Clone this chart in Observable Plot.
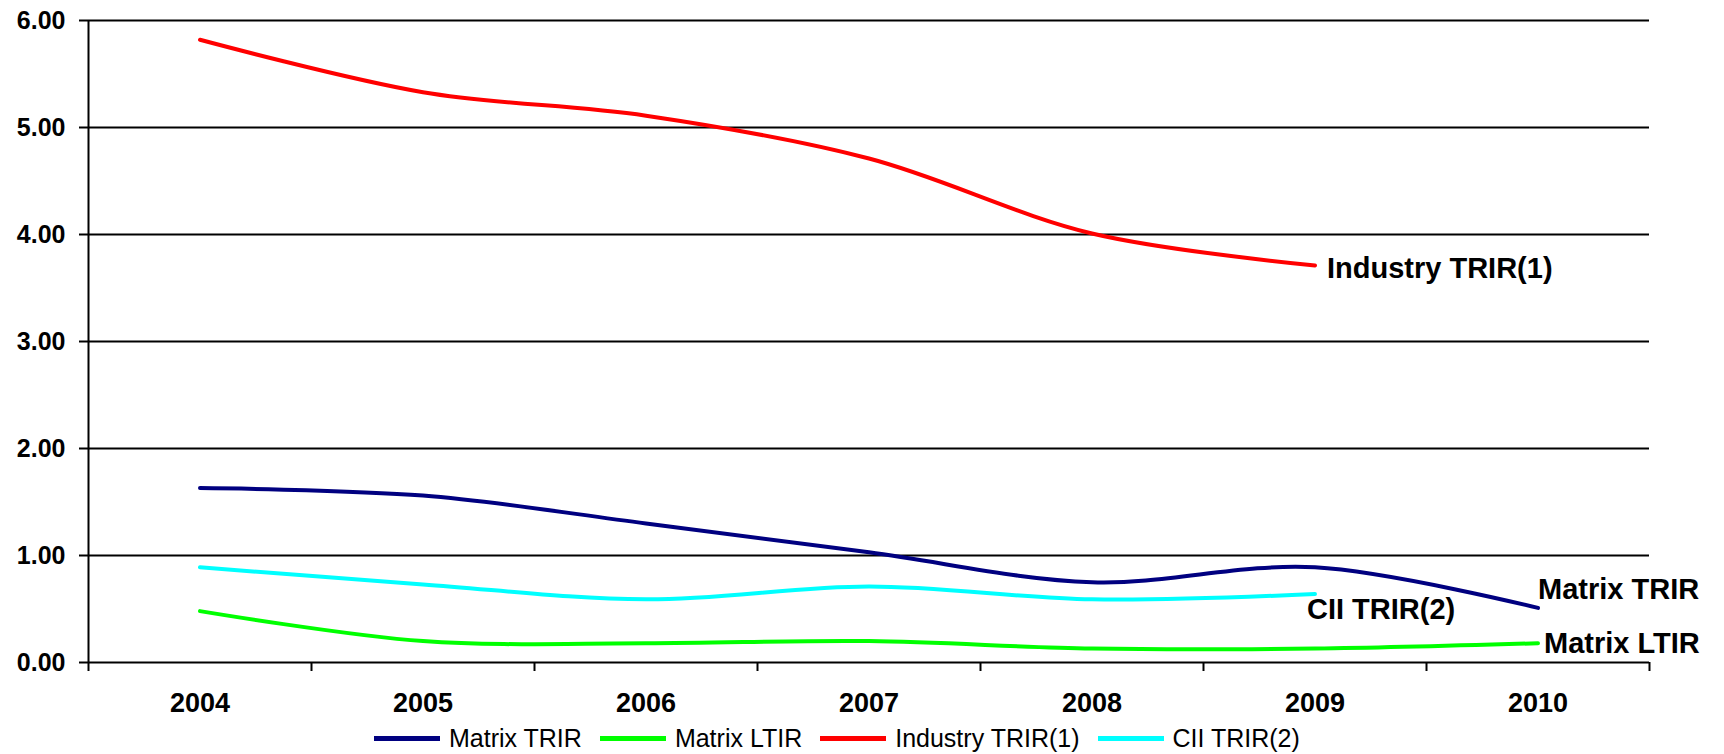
<!DOCTYPE html>
<html>
<head>
<meta charset="utf-8">
<script src="https://cdn.jsdelivr.net/npm/d3@7"></script>
<script src="https://cdn.jsdelivr.net/npm/@observablehq/plot@0.6"></script>
<style>
  html, body { margin: 0; padding: 0; background: #fff; }
  body { width: 1724px; height: 754px; position: relative; overflow: hidden; font-family: "Liberation Sans", Arial, sans-serif; }
  #legend { position: absolute; top: 723px; left: 374px; display: flex; align-items: center; height: 30px; font-size: 25px; color: #000; white-space: nowrap; }
  #legend .sw { display: inline-block; width: 66px; height: 5px; }
  #legend .lb { margin-left: 9px; margin-right: 18px; }
</style>
</head>
<body>
<div id="chart"></div>
<div id="legend"></div>
<script>
const years = [2004, 2005, 2006, 2007, 2008, 2009, 2010];
const matrixTRIR = [1.63, 1.56, 1.30, 1.03, 0.75, 0.89, 0.51];
const matrixLTIR = [0.48, 0.20, 0.18, 0.20, 0.13, 0.13, 0.18];
const industryTRIR = [5.82, 5.33, 5.11, 4.71, 4.01, 3.71];
const ciiTRIR = [0.89, 0.73, 0.59, 0.71, 0.59, 0.64];
const yTicks = [0, 1, 2, 3, 4, 5, 6];
const seriesNames = ["Matrix TRIR", "Matrix LTIR", "Industry TRIR(1)", "CII TRIR(2)"];
const seriesColors = ["#000080", "#00FF00", "#FF0000", "#00FFFF"];

const seriesValues = [matrixTRIR, matrixLTIR, industryTRIR, ciiTRIR];
const rows = [];
seriesValues.forEach((vals, i) => {
  vals.forEach((v, j) => rows.push({series: seriesNames[i], year: years[j], value: v}));
});
const bySeries = name => rows.filter(r => r.series === name);
const lastOf = name => { const s = bySeries(name); return [s[s.length - 1]]; };

const bounds = [years[0] - 0.5, ...years.map(y => y + 0.5)];
const font = '"Liberation Sans", Arial, sans-serif';

const labelOpts = {x: "year", y: "value", text: "series", textAnchor: "start", fontSize: 29, fontWeight: "bold", fill: "#000", fontFamily: font};

const chart = Plot.plot({
  width: 1724,
  height: 722,
  marginTop: 20,
  marginBottom: 60,
  marginLeft: 88,
  marginRight: 75,
  style: {fontFamily: font, background: "#fff", overflow: "visible"},
  x: {type: "linear", domain: [bounds[0], bounds[bounds.length - 1]]},
  y: {domain: [0, 6]},
  marks: [
    Plot.ruleY(yTicks, {stroke: "#000", strokeWidth: 2}),
    Plot.ruleX([bounds[0]], {y1: 0, y2: 6, stroke: "#000", strokeWidth: 2}),
    Plot.axisY({ticks: yTicks, tickFormat: d3.format(".2f"), tickSize: 9, tickPadding: 14, strokeWidth: 2, fontSize: 25, fontWeight: "bold", fill: "#000", label: null}),
    Plot.axisX({ticks: bounds, tickFormat: () => "", tickSize: 9, strokeWidth: 2, label: null}),
    Plot.axisX({ticks: years, tickFormat: d => String(d), tickSize: 0, tickPadding: 30, fontSize: 27, fontWeight: "bold", fill: "#000", label: null}),
    ...seriesNames.map((name, i) => Plot.line(bySeries(name), {x: "year", y: "value", stroke: seriesColors[i], strokeWidth: 4, curve: "catmull-rom"})),
    Plot.text(lastOf("Industry TRIR(1)"), {...labelOpts, dx: 12, dy: 3}),
    Plot.text(lastOf("Matrix TRIR"), {...labelOpts, dx: 0, dy: -18}),
    Plot.text(lastOf("Matrix LTIR"), {...labelOpts, dx: 6, dy: 0}),
    Plot.text(lastOf("CII TRIR(2)"), {...labelOpts, dx: -8, dy: 16})
  ]
});
document.getElementById("chart").appendChild(chart);

const legend = document.getElementById("legend");
seriesNames.forEach((name, i) => {
  const sw = document.createElement("span");
  sw.className = "sw";
  sw.style.background = seriesColors[i];
  const lb = document.createElement("span");
  lb.className = "lb";
  lb.textContent = name;
  legend.appendChild(sw);
  legend.appendChild(lb);
});
</script>
</body>
</html>
